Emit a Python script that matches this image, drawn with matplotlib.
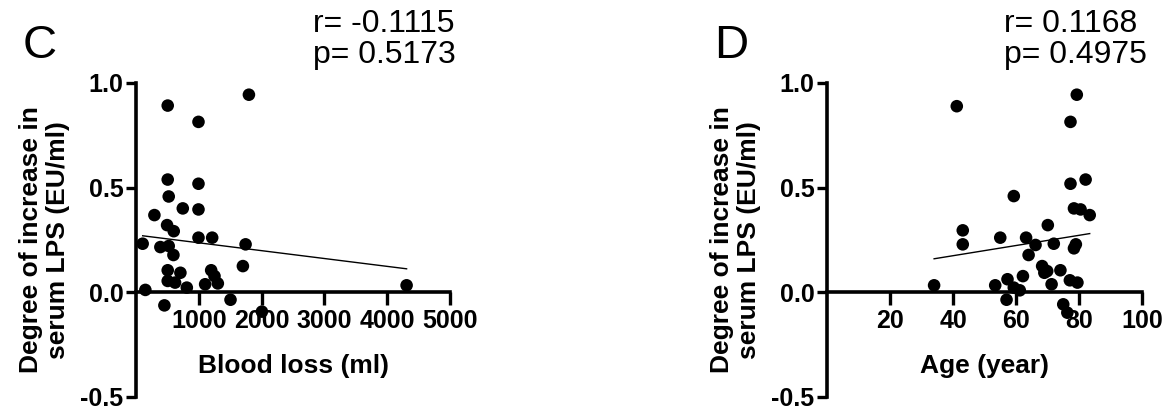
import matplotlib
matplotlib.use("Agg")
import matplotlib.pyplot as plt
import numpy as np

# ---- Panel C data: blood loss (ml) vs degree of increase in serum LPS (EU/ml)
blood_loss = [505, 1798, 995, 505, 995, 521, 745, 995, 293, 495, 601, 995, 1213,
              106, 388, 521, 1745, 596, 1702, 505, 707, 1197, 1250, 505, 622,
              1303, 1101, 809, 149, 4309, 1505, 452, 2005]
lps_c = [0.892, 0.944, 0.814, 0.538, 0.518, 0.457, 0.400, 0.395, 0.368, 0.320,
         0.291, 0.260, 0.260, 0.231, 0.215, 0.220, 0.228, 0.177, 0.124, 0.104,
         0.092, 0.104, 0.076, 0.053, 0.045, 0.041, 0.037, 0.021, 0.010, 0.032,
         -0.037, -0.064, -0.094]
fit_c_slope = -3.76e-5
fit_c_intercept = 0.273
stats_c = ["r= -0.1115", "p= 0.5173"]
xticks_c = [1000, 2000, 3000, 4000, 5000]

# ---- Panel D data: age (year) vs degree of increase in serum LPS (EU/ml)
age = [41.2, 79.3, 77.3, 82.1, 77.3, 59.3, 78.4, 80.5, 83.4, 70.1, 43.1, 43.1,
       55.0, 63.2, 72.0, 66.2, 79.0, 78.4, 64.0, 68.3, 69.9, 74.1, 69.0, 62.2,
       57.3, 77.1, 79.5, 71.3, 53.4, 34.0, 59.3, 61.2, 57.0, 75.0, 76.3]
lps_d = [0.889, 0.944, 0.814, 0.538, 0.518, 0.459, 0.400, 0.395, 0.368, 0.320,
         0.295, 0.228, 0.260, 0.260, 0.231, 0.225, 0.228, 0.209, 0.177, 0.124,
         0.100, 0.104, 0.092, 0.076, 0.061, 0.056, 0.045, 0.037, 0.032, 0.032,
         0.021, 0.008, -0.037, -0.059, -0.099]
fit_d_slope = 0.00244
fit_d_intercept = 0.076
stats_d = ["r= 0.1168", "p= 0.4975"]
xticks_d = [20, 40, 60, 80, 100]

yticks = [-0.5, 0.0, 0.5, 1.0]
ytick_labels = ["-0.5", "0.0", "0.5", "1.0"]
ylabel = "Degree of increase in\nserum LPS (EU/ml)"

FONT = "Liberation Sans"
W, H = 1168, 411
fig = plt.figure(figsize=(W / 100, H / 100), dpi=100)


def px(x, y):
    return x / W, 1 - y / H


def make_panel(ax_left_px, ax_right_px, xs, ys, slope, intercept, xmax,
               xticks, xlabel, letter, stats):
    top_px, bot_px = 83, 396.5
    width_px = ax_right_px - ax_left_px
    ax = fig.add_axes([ax_left_px / W, (H - bot_px) / H,
                       width_px / W, (bot_px - top_px) / H])
    ax.set_xlim(0, xmax)
    ax.set_ylim(-0.5, 1.0)
    for s in ("top", "right"):
        ax.spines[s].set_visible(False)
    ax.spines["bottom"].set_position(("data", 0))
    for s in ("bottom", "left"):
        ax.spines[s].set_linewidth(2.6)
        ax.spines[s].set_capstyle("projecting")
    ax.set_xticks(xticks)
    ax.set_xticklabels([str(t) for t in xticks])
    ax.set_yticks(yticks)
    ax.set_yticklabels(ytick_labels)
    ax.tick_params(axis="x", direction="out", length=9, width=2.4, pad=3.5,
                   labelsize=18)
    ax.tick_params(axis="y", direction="out", length=7.5, width=2.4, pad=1.5,
                   labelsize=18)
    for lab in ax.get_xticklabels() + ax.get_yticklabels():
        lab.set_fontfamily(FONT)
        lab.set_fontweight("bold")
    ax.scatter(xs, ys, s=82, color="black", zorder=3, clip_on=False,
               edgecolors="none")
    xr = np.array([min(xs), max(xs)])
    ax.plot(xr, slope * xr + intercept, color="black", lw=1.0, zorder=2)
    ax.set_xlabel(xlabel, fontsize=19, fontweight="bold", fontfamily=FONT)
    ax.xaxis.label.set_va("baseline")
    ax.xaxis.set_label_coords(0.5, (bot_px - 373) / (bot_px - top_px))
    ax.set_ylabel(ylabel, fontsize=19, fontweight="bold", fontfamily=FONT,
                  linespacing=1.15)
    ax.yaxis.set_label_coords(-66 / width_px, 0.5)
    # panel letter and statistics
    fig.text(*px(ax_left_px - 113, 58), letter, fontsize=34, fontfamily=FONT,
             va="baseline", ha="left")
    fig.text(*px(ax_left_px + 177, 32), stats[0], fontsize=23,
             fontfamily=FONT, va="baseline", ha="left")
    fig.text(*px(ax_left_px + 177, 63), stats[1], fontsize=23,
             fontfamily=FONT, va="baseline", ha="left")
    return ax


make_panel(136, 450, blood_loss, lps_c, fit_c_slope, fit_c_intercept, 5000,
           xticks_c, "Blood loss (ml)", "C", stats_c)
make_panel(827, 1142, age, lps_d, fit_d_slope, fit_d_intercept, 100,
           xticks_d, "Age (year)", "D", stats_d)

fig.savefig("out.png", dpi=100, facecolor="white")
